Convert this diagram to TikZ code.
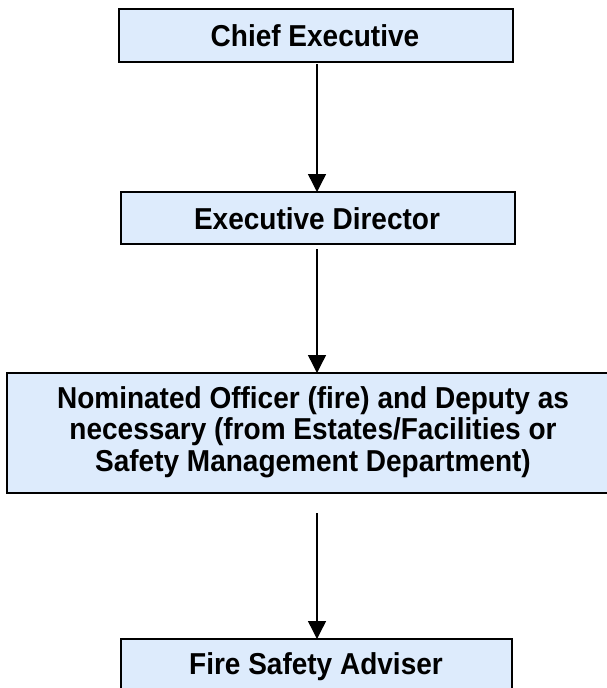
\documentclass[tikz,border=0pt]{standalone}
\usepackage{fontspec}
\setmainfont{Liberation Sans}
\usetikzlibrary{arrows.meta}
\definecolor{boxfill}{HTML}{DDEBFC}
\tikzset{
  orgbox/.style={draw=black, line width=1.3pt, fill=boxfill},
  boxtext/.style={font=\bfseries\fontsize{28}{29}\selectfont, align=center, text=black, yscale=1.08},
  link/.style={line width=1.4pt, -{Triangle[length=18pt,width=18pt]}}
}
\begin{document}
\begin{tikzpicture}[x=1pt,y=-1pt]
\useasboundingbox (0,0) rectangle (607,688);
\begin{scope}
\clip (0,0) rectangle (607,688);
\draw[orgbox] (119,9) rectangle (513,62);
\node[boxtext] (ce) at (315,36) {Chief Executive};
\coordinate (ceb) at (317,64);
\draw[orgbox] (121,192) rectangle (515,244);
\node[boxtext] (ed) at (317,219) {Executive Director};
\coordinate (edt) at (317,192);
\coordinate (edb) at (317,249);
\draw[orgbox] (7,373) rectangle (612,493);
\node[boxtext] (no) at (313,432) {Nominated Officer (fire) and Deputy as\\necessary (from Estates/Facilities or\\Safety Management Department)};
\coordinate (not) at (317,373);
\coordinate (nob) at (317,513);
\draw[orgbox] (121,639) rectangle (512,700);
\node[boxtext] (fs) at (316,667) {Fire Safety Adviser};
\coordinate (fst) at (317,639);
\draw[link] (ceb) -- (edt);
\draw[link] (edb) -- (not);
\draw[link] (nob) -- (fst);
\end{scope}
\end{tikzpicture}
\end{document}
